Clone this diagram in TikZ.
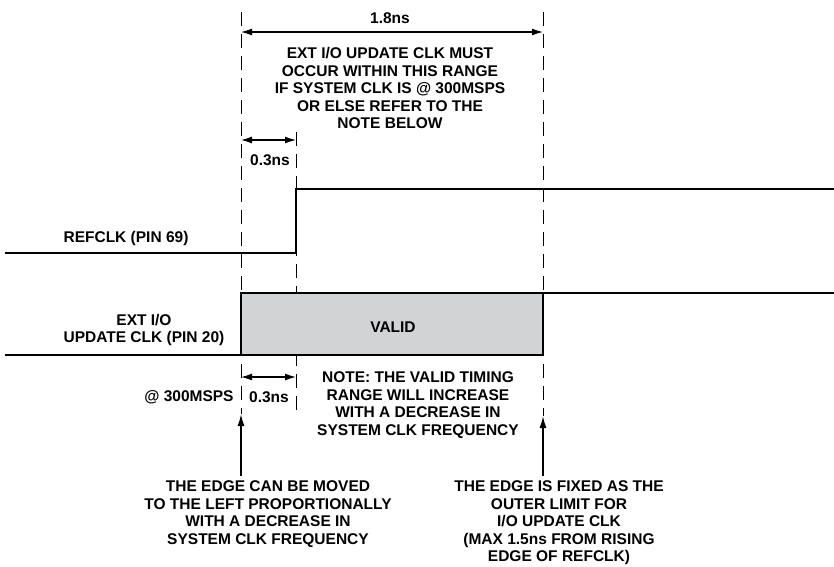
\documentclass[tikz,border=0pt]{standalone}
\usepackage{fontspec}
\setmainfont{Liberation Sans}
\usepackage{tikz}
\usetikzlibrary{arrows,arrows.meta,shapes,positioning}
\definecolor{validgray}{RGB}{209,211,212}

\begin{document}
\begin{tikzpicture}[x=1pt,y=-1pt]
                    \tikzstyle{every node}+=[inner sep=0pt,align=center,font=\bfseries\fontsize{15.5}{17.5}\selectfont]
                    \tikzstyle{sig}=[black,line width=1.5pt]
                    \tikzstyle{guide}=[black,line width=1pt,dash pattern=on 14pt off 8pt]
                    \tikzstyle{dim}=[black,line width=1.3pt,{Latex[length=11pt,width=7pt]}-{Latex[length=11pt,width=7pt]}]
                    \tikzstyle{up}=[black,line width=1.5pt,-{Latex[length=12pt,width=7pt]}]
                    \useasboundingbox (0,0) rectangle (834,566);
                    % guide lines
                    \coordinate (lt) at (241,12);
                    \coordinate (lb) at (241,414);
                    \coordinate (mt) at (296,132);
                    \coordinate (mb) at (296,410);
                    \coordinate (rt) at (543,12);
                    \coordinate (rb) at (543,416);
                    \draw [guide] (lt) -- (lb);
                    \draw [guide] (mt) -- (mb);
                    \draw [guide] (rt) -- (rb);
                    % REFCLK
                    \draw [sig] (5,253) -- (296,253) -- (296,189) -- (834,189);
                    % EXT I/O UPDATE CLK
                    \draw [sig,fill=validgray] (241,293) rectangle (543,355);
                    \draw [sig] (5,355) -- (241,355);
                    \draw [sig] (543,293) -- (834,293);
                    % dimensions
                    \coordinate (d18l) at (241,32);
                    \coordinate (d18r) at (543,32);
                    \coordinate (d03l) at (241,140);
                    \coordinate (d03r) at (296,140);
                    \coordinate (e03l) at (241,377);
                    \coordinate (e03r) at (296,377);
                    \draw [dim] (d18l) -- (d18r);
                    \draw [dim] (d03l) -- (d03r);
                    \draw [dim] (e03l) -- (e03r);
                    % labels
                    \node (t18) at (390,18) {1.8ns};
                    \node (range) at (390,88) {EXT I/O UPDATE CLK MUST\\OCCUR WITHIN THIS RANGE\\IF SYSTEM CLK IS @ 300MSPS\\OR ELSE REFER TO THE\\NOTE BELOW};
                    \node (t03) at (270,160) {0.3ns};
                    \node (refclk) at (126,238) {REFCLK (PIN 69)};
                    \node (extio) at (144,330) {EXT I/O\\UPDATE CLK (PIN 20)};
                    \node (valid) at (393,327) {VALID};
                    \node (msps) at (189,397) {@ 300MSPS};
                    \node (b03) at (269,397) {0.3ns};
                    \node (note) at (418,405) {NOTE: THE VALID TIMING\\RANGE WILL INCREASE\\WITH A DECREASE IN\\SYSTEM CLK FREQUENCY};
                    \node (moved) at (268,514) {THE EDGE CAN BE MOVED\\TO THE LEFT PROPORTIONALLY\\WITH A DECREASE IN\\SYSTEM CLK FREQUENCY};
                    \node (fixed) at (559,523) {THE EDGE IS FIXED AS THE\\OUTER LIMIT FOR\\I/O UPDATE CLK\\(MAX 1.5ns FROM RISING\\EDGE OF REFCLK)};
                    % edge arrows
                    \coordinate (la) at (241,476);
                    \coordinate (ra) at (543,476);
                    \draw [up] (la) -- (lb);
                    \draw [up] (ra) -- (rb);
                \end{tikzpicture}
\end{document}
